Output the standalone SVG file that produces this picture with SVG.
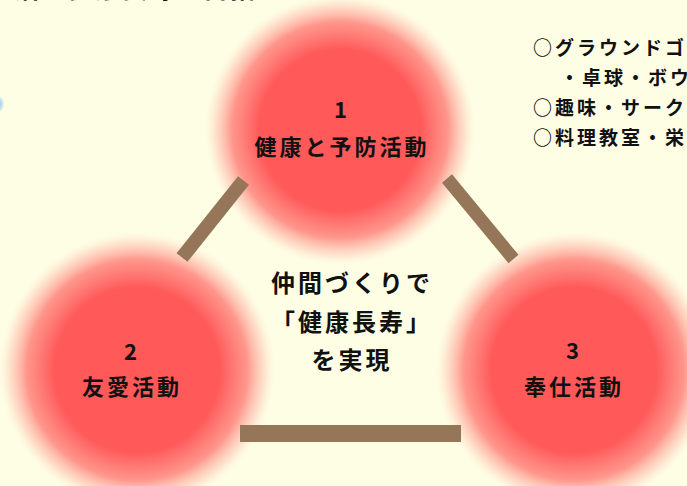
<svg xmlns="http://www.w3.org/2000/svg" width="687" height="486" viewBox="0 0 687 486">
<defs>
<radialGradient id="glow" cx="0.5" cy="0.5" r="0.5">
<stop offset="0" stop-color="#FF5858"/>
<stop offset="0.6" stop-color="#FF5A5A"/>
<stop offset="0.8" stop-color="#FF6A66" stop-opacity="0.7"/>
<stop offset="0.92" stop-color="#FF9A90" stop-opacity="0.3"/>
<stop offset="1" stop-color="#FFD0C0" stop-opacity="0"/>
</radialGradient>
<radialGradient id="blue" cx="0.5" cy="0.5" r="0.5">
<stop offset="0" stop-color="#4FA3E0"/>
<stop offset="1" stop-color="#A9D3F2" stop-opacity="0.3"/>
</radialGradient>
<style>
.t{font-family:"Noto Sans CJK JP","Noto Sans",sans-serif;font-weight:bold;fill:#111;text-anchor:middle}
.n{font-size:22px;letter-spacing:3px}
.c{font-size:24px;letter-spacing:3px}
.r{font-family:"Noto Sans CJK JP","Noto Sans",sans-serif;font-weight:bold;fill:#111;font-size:19px;letter-spacing:3px}
.bar{fill:#957659}
</style>
</defs>
<rect width="687" height="486" fill="#FEFEE4"/>
<text x="14" y="-2" font-family="Noto Sans CJK JP, sans-serif" font-weight="bold" font-size="25" fill="#111" letter-spacing="2">活の健康長寿を目指しましょう。</text>
<ellipse cx="-3" cy="104" rx="7" ry="8" fill="url(#blue)"/>
<g id="node1">
<circle cx="340" cy="130" r="135" fill="url(#glow)"/>
<text class="t n" x="342" y="118">1</text>
<text class="t n" x="342" y="155">健康と予防活動</text>
</g>
<g id="node2">
<circle cx="137" cy="370" r="138" fill="url(#glow)"/>
<text class="t n" x="132" y="360">2</text>
<text class="t n" x="132" y="395">友愛活動</text>
</g>
<g id="node3">
<circle cx="574" cy="370" r="138" fill="url(#glow)"/>
<text class="t n" x="574" y="359">3</text>
<text class="t n" x="574" y="395">奉仕活動</text>
</g>
<g id="center">
<text class="t c" x="352" y="292">仲間づくりで</text>
<text class="t c" x="352" y="331">「健康長寿」</text>
<text class="t c" x="352" y="369">を実現</text>
</g>
<g id="connectors">
<line x1="243.5" y1="180.5" x2="182" y2="257.5" stroke="#957659" stroke-width="14"/>
<line x1="447" y1="178.5" x2="513.5" y2="259" stroke="#957659" stroke-width="13"/>
<rect class="bar" x="240" y="425" width="221" height="17"/>
</g>
<g id="list">
<text class="r" x="533" y="55">○グラウンドゴルフ</text>
<text class="r" x="560" y="85">・卓球・ボウリング</text>
<text class="r" x="533" y="115">○趣味・サークル</text>
<text class="r" x="533" y="145">○料理教室・栄養</text>
</g>
</svg>
